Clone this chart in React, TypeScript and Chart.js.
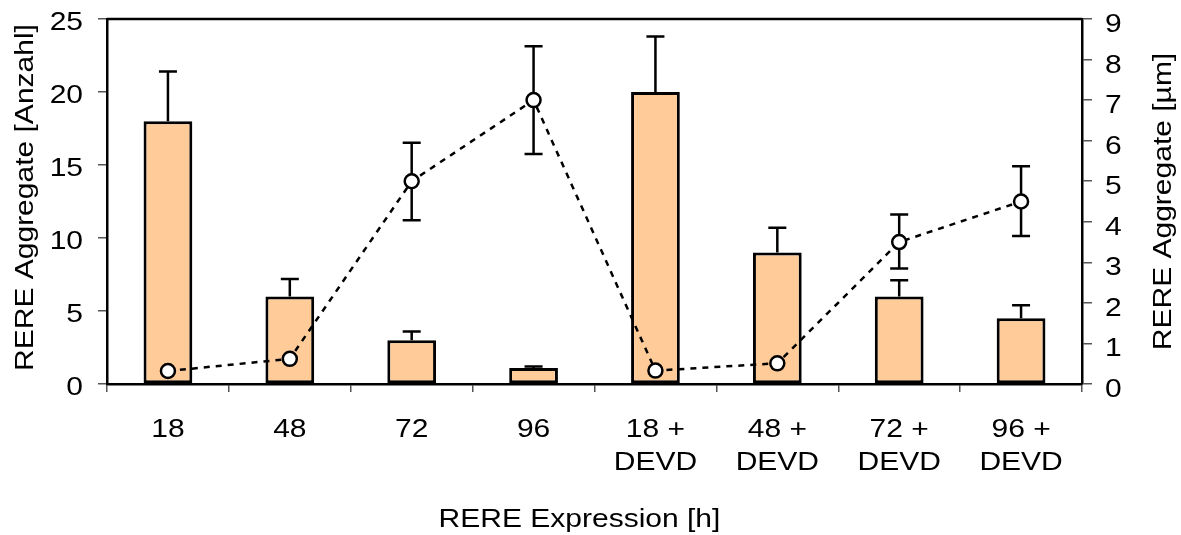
import React, { useEffect, useRef } from "react";
import { Chart, registerables } from "chart.js";

Chart.register(...registerables);

const categories: string[][] = [
  ["18"], ["48"], ["72"], ["96"],
  ["18 +", "DEVD"], ["48 +", "DEVD"], ["72 +", "DEVD"], ["96 +", "DEVD"],
];
const countValues = [18, 6, 3, 1.1, 20, 9, 6, 4.5];
const countErrorTop = [21.4, 7.2, 3.6, 1.2, 23.8, 10.7, 7.1, 5.4];
const sizeValues = [0.32, 0.62, 5.0, 7.0, 0.33, 0.51, 3.5, 4.5];
const sizeErrorTop = [null, null, 5.95, 8.33, null, null, 4.18, 5.37];
const sizeErrorBottom = [null, null, 4.04, 5.67, null, null, 2.85, 3.65];
const leftTitle = "RERE Aggregate [Anzahl]";
const rightTitle = "RERE Aggregate [µm]";
const xTitle = "RERE Expression [h]";

const FONT = "'Liberation Sans', Arial, sans-serif";
const FONT_SIZE = 25;
const STRETCH = 1.2;

function drawText(
  ctx: CanvasRenderingContext2D,
  text: string,
  x: number,
  y: number,
  align: CanvasTextAlign,
  rot = 0
) {
  ctx.save();
  ctx.translate(x, y);
  ctx.rotate(rot);
  ctx.scale(STRETCH, 1);
  ctx.textAlign = align;
  ctx.textBaseline = "alphabetic";
  ctx.fillText(text, 0, 0);
  ctx.restore();
}

export default function App() {
  const ref = useRef<HTMLCanvasElement>(null);
  useEffect(() => {
    document.body.style.margin = "0";
    const canvas = ref.current!;
    const capW = 9;
    const errPlugin = {
      id: "errs",
      afterDatasetDraw(chart: any, args: any) {
        if (args.index !== 0) return;
        const ctx = chart.ctx;
        const x = chart.scales.x;
        const y = chart.scales.y;
        ctx.save();
        ctx.strokeStyle = "#000";
        ctx.lineWidth = 2.5;
        countValues.forEach((v, i) => {
          const px = x.getPixelForValue(i);
          const y0 = y.getPixelForValue(v);
          const y1 = y.getPixelForValue(countErrorTop[i]);
          ctx.beginPath();
          ctx.moveTo(px, y0);
          ctx.lineTo(px, y1);
          ctx.moveTo(px - capW, y1);
          ctx.lineTo(px + capW, y1);
          ctx.stroke();
        });
        ctx.restore();
      },
      beforeDatasetDraw(chart: any, args: any) {
        if (args.index !== 1) return;
        const ctx = chart.ctx;
        const x = chart.scales.x;
        const y = chart.scales.y2;
        ctx.save();
        ctx.strokeStyle = "#000";
        ctx.lineWidth = 2.5;
        sizeValues.forEach((v, i) => {
          const t = sizeErrorTop[i];
          const b = sizeErrorBottom[i];
          if (t == null || b == null) return;
          const px = x.getPixelForValue(i);
          const yt = y.getPixelForValue(t);
          const yb = y.getPixelForValue(b);
          ctx.beginPath();
          ctx.moveTo(px, yt);
          ctx.lineTo(px, yb);
          ctx.moveTo(px - capW, yt);
          ctx.lineTo(px + capW, yt);
          ctx.moveTo(px - capW, yb);
          ctx.lineTo(px + capW, yb);
          ctx.stroke();
        });
        ctx.restore();
      },
      afterDraw(chart: any) {
        const ctx = chart.ctx as CanvasRenderingContext2D;
        const a = chart.chartArea;
        ctx.save();
        ctx.strokeStyle = "#000";
        ctx.lineWidth = 2.5;
        ctx.beginPath();
        ctx.moveTo(a.left, a.top);
        ctx.lineTo(a.right, a.top);
        ctx.stroke();
        ctx.fillStyle = "#000";
        ctx.font = `${FONT_SIZE}px ${FONT}`;
        const ys = chart.scales.y;
        const y2 = chart.scales.y2;
        const xs = chart.scales.x;
        ys.ticks.forEach((t: any) => {
          drawText(ctx, String(t.value), a.left - 24, ys.getPixelForValue(t.value) + 11, "right");
        });
        y2.ticks.forEach((t: any) => {
          drawText(ctx, String(t.value), a.right + 23, y2.getPixelForValue(t.value) + 13, "left");
        });
        categories.forEach((lines, i) => {
          const px = xs.getPixelForValue(i);
          lines.forEach((ln, j) => {
            drawText(ctx, ln, px, a.bottom + 53 + j * 33, "center");
          });
        });
        const midY = (a.top + a.bottom) / 2;
        drawText(ctx, leftTitle, 33, midY - 4, "center", -Math.PI / 2);
        drawText(ctx, rightTitle, 1171, midY, "center", -Math.PI / 2);
        drawText(ctx, xTitle, (a.left + a.right) / 2 - 15, 527, "center");
        ctx.restore();
      },
    };

    const chart = new Chart(canvas, {
      type: "bar",
      data: {
        labels: categories.map((c) => c.join(" ")),
        datasets: [
          {
            type: "bar",
            data: countValues,
            yAxisID: "y",
            backgroundColor: "#FFCC99",
            borderColor: "#000",
            borderWidth: 3,
            borderSkipped: false,
            categoryPercentage: 1,
            barPercentage: 0.4,
            order: 2,
          } as any,
          {
            type: "line",
            data: sizeValues,
            yAxisID: "y2",
            borderColor: "#000",
            borderWidth: 2.5,
            borderDash: [6, 6],
            pointRadius: 7,
            pointBorderWidth: 2.5,
            pointBackgroundColor: "#fff",
            pointBorderColor: "#000",
            fill: false,
            tension: 0,
            order: 1,
          } as any,
        ],
      },
      options: {
        animation: false,
        responsive: false,
        maintainAspectRatio: false,
        layout: { padding: { top: 19, left: 0, right: 0, bottom: 0 } },
        plugins: { legend: { display: false }, tooltip: { enabled: false } },
        scales: {
          x: {
            type: "category",
            offset: true,
            grid: {
              display: true,
              drawOnChartArea: false,
              drawTicks: true,
              tickLength: 8,
              color: "#555",
              lineWidth: 1.5,
              offset: true,
            },
            border: { display: true, color: "#000", width: 2.5 },
            ticks: { display: false, autoSkip: false },
            afterFit(s: any) {
              s.height = 151;
            },
          },
          y: {
            position: "left",
            min: 0,
            max: 25,
            ticks: { stepSize: 5, display: false },
            grid: {
              display: true,
              drawOnChartArea: false,
              drawTicks: true,
              tickLength: 9,
              color: "#555",
              lineWidth: 1.5,
            },
            border: { display: true, color: "#000", width: 2.5 },
            afterFit(s: any) {
              s.width = 107;
            },
          },
          y2: {
            position: "right",
            min: 0,
            max: 9,
            ticks: { stepSize: 1, display: false },
            grid: {
              display: true,
              drawOnChartArea: false,
              drawTicks: true,
              tickLength: 10,
              color: "#555",
              lineWidth: 1.5,
            },
            border: { display: true, color: "#000", width: 2.5 },
            afterFit(s: any) {
              s.width = 99;
            },
          },
        },
      } as any,
      plugins: [errPlugin],
    });
    return () => chart.destroy();
  }, []);
  return (
    <div style={{ width: 1181, height: 535, background: "#fff" }}>
      <canvas ref={ref} width={1181} height={535} style={{ display: "block" }} />
    </div>
  );
}
